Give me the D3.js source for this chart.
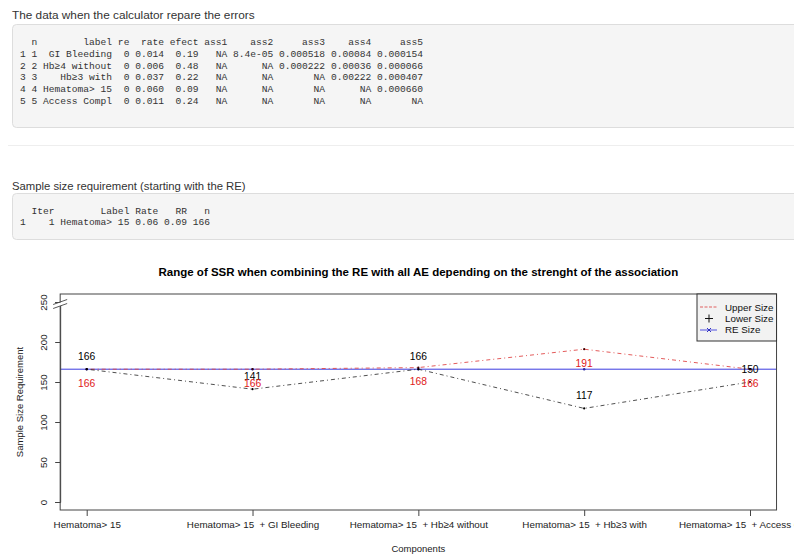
<!DOCTYPE html>
<html>
<head>
<meta charset="utf-8">
<script src="https://cdn.jsdelivr.net/npm/d3@7"></script>
<style>
  body { margin: 0; background: #fff; }
  svg text { white-space: pre; }
</style>
</head>
<body>
<svg id="page" width="794" height="555"></svg>
<script>
// printed tables
const tableLines = [
  "  n        label re  rate efect ass1    ass2     ass3    ass4     ass5",
  "1 1  GI Bleeding  0 0.014  0.19   NA 8.4e-05 0.000518 0.00084 0.000154",
  "2 2 Hb\u22654 without  0 0.006  0.48   NA      NA 0.000222 0.00036 0.000066",
  "3 3    Hb\u22653 with  0 0.037  0.22   NA      NA       NA 0.00222 0.000407",
  "4 4 Hematoma> 15  0 0.060  0.09   NA      NA       NA      NA 0.000660",
  "5 5 Access Compl  0 0.011  0.24   NA      NA       NA      NA       NA"
];
const ssrLines = [
  "  Iter        Label Rate   RR   n",
  "1    1 Hematoma> 15 0.06 0.09 166"
];

// chart data
const components = [
  "Hematoma> 15",
  "Hematoma> 15  + GI Bleeding",
  "Hematoma> 15  + Hb\u22654 without",
  "Hematoma> 15  + Hb\u22653 with",
  "Hematoma> 15  + Access Compl"
];
const upperSize = [166, 166, 168, 191, 166];
const lowerSize = [166, 141, 166, 117, 150];
const reSize = 166;
const yTicks = [0, 50, 100, 150, 200, 250];

const svg = d3.select("#page");
const sans = "'Liberation Sans', Arial, Helvetica, sans-serif";
const mono = "'Liberation Mono', 'DejaVu Sans Mono', monospace";

// ---- top part: headings + code blocks ----
svg.append("text").attr("x", 12).attr("y", 19)
  .attr("font-family", sans).attr("font-size", 11.8).attr("fill", "#333")
  .text("The data when the calculator repare the errors");

svg.append("rect").attr("x", 12.5).attr("y", 24.5).attr("width", 800).attr("height", 103)
  .attr("rx", 4).attr("fill", "#f5f5f5").attr("stroke", "#ddd");

svg.append("g").selectAll("text").data(tableLines).join("text")
  .attr("x", 20).attr("y", (d, i) => 45 + i * 11.8)
  .attr("font-family", mono).attr("font-size", 9.6).attr("fill", "#333")
  .text(d => d);

svg.append("line").attr("x1", 8).attr("x2", 794).attr("y1", 145.5).attr("y2", 145.5)
  .attr("stroke", "#eee");

svg.append("text").attr("x", 12).attr("y", 190)
  .attr("font-family", sans).attr("font-size", 11.3).attr("fill", "#333")
  .text("Sample size requirement (starting with the RE)");

svg.append("rect").attr("x", 12.5).attr("y", 193.5).attr("width", 800).attr("height", 46)
  .attr("rx", 4).attr("fill", "#f5f5f5").attr("stroke", "#ddd");

svg.append("g").selectAll("text").data(ssrLines).join("text")
  .attr("x", 20).attr("y", (d, i) => 214 + i * 11.2)
  .attr("font-family", mono).attr("font-size", 9.6).attr("fill", "#333")
  .text(d => d);

// ---- chart ----
const idx = components.map((d, i) => i + 1);
const x = d3.scaleLinear().domain([1, 5]).range([86.7, 750]);
const y = d3.scaleLinear().domain([0, 250]).range([502, 302]);
const pLeft = x(0.84), pRight = x(5.16), pTop = y(260), pBottom = y(-10);

const chart = svg.append("g");

chart.append("text").attr("x", (pLeft + pRight) / 2).attr("y", 276)
  .attr("text-anchor", "middle").attr("font-family", sans)
  .attr("font-size", 11.5).attr("font-weight", "bold").attr("fill", "#000")
  .text("Range of SSR when combining the RE with all AE depending on the strenght of the association");

// RE reference line
chart.append("line").attr("x1", pLeft).attr("x2", pRight)
  .attr("y1", y(reSize)).attr("y2", y(reSize))
  .attr("stroke", "#3a3ae0").attr("stroke-width", 1);

const line = d3.line().x((d, i) => x(i + 1)).y(d => y(d));

chart.append("path").datum(upperSize).attr("d", line)
  .attr("fill", "none").attr("stroke", "#e04848").attr("stroke-width", 0.9)
  .attr("stroke-dasharray", "1,3,4,3");
chart.append("path").datum(lowerSize).attr("d", line)
  .attr("fill", "none").attr("stroke", "#222").attr("stroke-width", 0.8)
  .attr("stroke-dasharray", "1,3,4,3");

// point markers
chart.append("g").selectAll("circle").data(idx).join("circle")
  .attr("cx", d => x(d)).attr("cy", y(reSize)).attr("r", 1.2).attr("fill", "#2a2aa0");
chart.append("g").selectAll("circle").data(upperSize).join("circle")
  .attr("cx", (d, i) => x(i + 1)).attr("cy", d => y(d)).attr("r", 1.1).attr("fill", "#400");
chart.append("g").selectAll("circle").data(lowerSize).join("circle")
  .attr("cx", (d, i) => x(i + 1)).attr("cy", d => y(d)).attr("r", 1.1).attr("fill", "#000");

// value labels
chart.append("g").selectAll("text").data(lowerSize).join("text")
  .attr("x", (d, i) => x(i + 1)).attr("y", d => y(d) - 9)
  .attr("text-anchor", "middle").attr("font-family", sans).attr("font-size", 10.3)
  .attr("fill", "#000").text(d => d);
chart.append("g").selectAll("text").data(upperSize).join("text")
  .attr("x", (d, i) => x(i + 1)).attr("y", d => y(d) + 17.5)
  .attr("text-anchor", "middle").attr("font-family", sans).attr("font-size", 10.3)
  .attr("fill", "#e02020").text(d => d);

// box
chart.append("rect").attr("x", pLeft).attr("y", pTop)
  .attr("width", pRight - pLeft).attr("height", pBottom - pTop)
  .attr("fill", "none").attr("stroke", "#444");

// y axis
const yAxis = chart.append("g").attr("transform", `translate(${pLeft},0)`)
  .call(d3.axisLeft(y).tickValues(yTicks).tickSize(5).tickFormat(d3.format("d")));
yAxis.select(".domain").attr("stroke", "#444");
yAxis.selectAll(".tick line").attr("stroke", "#444");
yAxis.selectAll(".tick text")
  .attr("transform", "rotate(-90)").attr("x", 0).attr("y", -13).attr("dy", 0)
  .attr("text-anchor", "middle").attr("font-family", sans).attr("font-size", 9.8)
  .attr("fill", "#222");

// axis break at the top of the y axis
const by = y(250);
chart.append("polygon")
  .attr("points", `${pLeft - 7},${by + 3} ${pLeft + 7},${by - 2} ${pLeft + 7},${by + 1.5} ${pLeft - 7},${by + 6.5}`)
  .attr("fill", "#fff");
chart.append("g").selectAll("line").data([0, 4]).join("line")
  .attr("x1", pLeft - 7).attr("x2", pLeft + 7)
  .attr("y1", d => by + 2.5 + d).attr("y2", d => by - 2.5 + d)
  .attr("stroke", "#444").attr("stroke-width", 0.9);

// x axis
const xAxis = chart.append("g").attr("transform", `translate(0,${pBottom})`)
  .call(d3.axisBottom(x).tickValues(idx).tickSize(6).tickFormat(d => components[d - 1]));
xAxis.select(".domain").remove();
xAxis.selectAll(".tick line").attr("stroke", "#444");
xAxis.selectAll(".tick text").attr("y", 15).attr("dy", "0.35em")
  .attr("font-family", sans).attr("font-size", 9.8).attr("fill", "#222");

// axis titles
chart.append("text").attr("x", (pLeft + pRight) / 2).attr("y", 552)
  .attr("text-anchor", "middle").attr("font-family", sans).attr("font-size", 9.5)
  .attr("fill", "#222").text("Components");
chart.append("text").attr("transform", `translate(23,${(pTop + pBottom) / 2}) rotate(-90)`)
  .attr("text-anchor", "middle").attr("font-family", sans).attr("font-size", 9.5)
  .attr("fill", "#222").text("Sample Size Requirement");

// legend
const legendItems = ["Upper Size", "Lower Size", "RE Size"];
const lg = chart.append("g");
lg.append("rect").attr("x", 697).attr("y", pTop).attr("width", pRight - 697).attr("height", 47)
  .attr("fill", "#f2f2f2").attr("stroke", "#333");
lg.selectAll("text").data(legendItems).join("text")
  .attr("x", 725).attr("y", (d, i) => 310.5 + i * 11.4)
  .attr("font-family", sans).attr("font-size", 9.8).attr("fill", "#111").text(d => d);
lg.append("line").attr("x1", 700).attr("x2", 717).attr("y1", 307).attr("y2", 307)
  .attr("stroke", "#e06060").attr("stroke-dasharray", "3,1.5");
lg.append("path").attr("d", "M705,318.5h8M709,314.5v8").attr("stroke", "#111");
lg.append("line").attr("x1", 700).attr("x2", 717).attr("y1", 330).attr("y2", 330)
  .attr("stroke", "#5050e0");
lg.append("path").attr("d", "M707,328l4,4M711,328l-4,4").attr("stroke", "#3030c0");
</script>
</body>
</html>
